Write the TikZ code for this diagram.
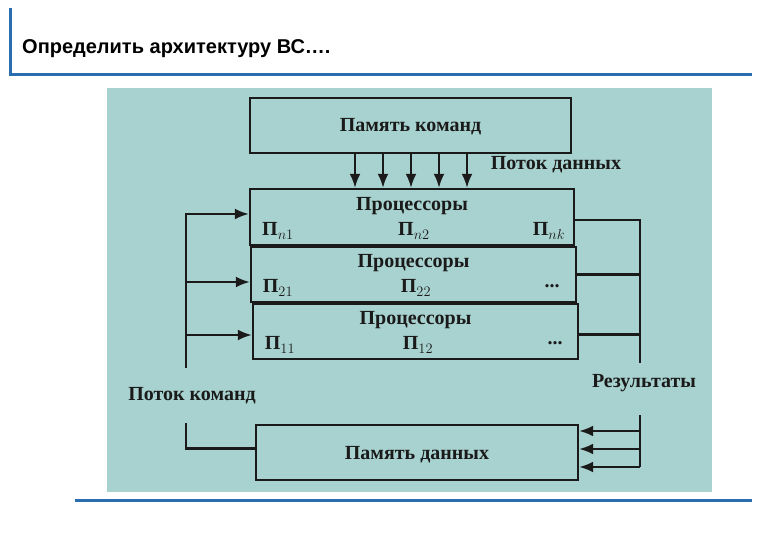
\documentclass[tikz,border=0pt]{standalone}
\usepackage{fontspec}
\setmainfont{Liberation Serif}
\newfontfamily\titlefont{Liberation Sans}
\usetikzlibrary{arrows.meta}
\definecolor{bg}{HTML}{A8D2CF}
\definecolor{ink}{HTML}{1A1A1A}
\definecolor{rule}{HTML}{2A6EB0}
\begin{document}
\begin{tikzpicture}[x=1pt,y=-1pt,
  box/.style={draw=ink,line width=2.4pt,fill=bg,inner sep=0pt},
  lbl/.style={text=ink,font=\fontsize{20}{22}\selectfont\bfseries,inner sep=0pt},
  con/.style={draw=ink,line width=2.2pt},
  arr/.style={con,-{Latex[length=14pt,width=11pt]}}]
\useasboundingbox (0,0) rectangle (780,540);
\fill[white] (0,0) rectangle (780,540);
% slide frame
\draw[rule,line width=3pt] (10,8) -- (10,76);
\draw[rule,line width=3pt] (10,75) -- (752,75);
\draw[rule,line width=3pt] (75,500) -- (752,500);
\node[anchor=west,inner sep=0pt,font=\titlefont\fontsize{20}{22}\selectfont\bfseries] (title) at (22,49) {Определить архитектуру ВС….};
% scan background
\fill[bg] (107,88) rectangle (712,492);
% boxes
\node[box,minimum width=321pt,minimum height=55pt] (mk) at (410.5,125.5) {};
\node[lbl] (mkt) at (410.5,127) {Память команд};
\node[box,minimum width=324pt,minimum height=56pt] (p1) at (412,217) {};
\node[box,minimum width=325pt,minimum height=55pt] (p2) at (413.5,274.5) {};
\node[box,minimum width=325pt,minimum height=55pt] (p3) at (415.5,331.5) {};
\node[box,minimum width=322pt,minimum height=55pt] (md) at (417,452.5) {};
\node[lbl] (mdt) at (417,455) {Память данных};
% processor texts
\node[lbl] (p1t) at (412,206) {Процессоры};
\node[lbl] (p1a) at (278,231) {П$_{n1}$};
\node[lbl] (p1b) at (414,231) {П$_{n2}$};
\node[lbl] (p1c) at (549,231) {П$_{nk}$};
\node[lbl] (p2t) at (413.5,263) {Процессоры};
\node[lbl] (p2a) at (278,288) {П$_{21}$};
\node[lbl] (p2b) at (416,288) {П$_{22}$};
\node[lbl] (p2c) at (552,286) {...};
\node[lbl] (p3t) at (415.5,320) {Процессоры};
\node[lbl] (p3a) at (280,345) {П$_{11}$};
\node[lbl] (p3b) at (418,345) {П$_{12}$};
\node[lbl] (p3c) at (555,343) {...};
% labels
\node[lbl] (ld) at (556,165) {Поток данных};
\node[lbl] (lk) at (192,396) {Поток команд};
\node[lbl] (lr) at (644,383) {Результаты};
% data flow arrows
\foreach \x in {355,383,411,439,467}
  \draw[arr] (mk.south -| \x,0) -- (p1.north -| \x,0);
% command flow
\coordinate (lb) at (186,368);
\coordinate (lb2) at (186,423);
\coordinate (l2) at (186,282);
\coordinate (l3) at (186,335);
\draw[arr] (lb) |- ([yshift=3pt]p1.west);
\draw[arr] (l2) -- (p2.west |- l2);
\draw[arr] (l3) -- (p3.west |- l3);
\draw[con] (lb2) |- ([yshift=4pt]md.west);
% results
\coordinate (rb) at (640,363);
\coordinate (rb2) at (640,415);
\draw[con] ([yshift=-3pt]p1.east) -| (rb);
\draw[con] (p2.east) -- (p2.east -| rb);
\draw[con] ([yshift=-3pt]p3.east) -- ([yshift=-3pt]p3.east -| rb);
\coordinate (rbe) at (640,467);
\draw[con] (rb2) -- (rbe);
\draw[arr] (rbe |- 0,431) -- (md.east |- 0,431);
\draw[arr] (rbe |- 0,449) -- (md.east |- 0,449);
\draw[arr] (rbe) -- (md.east |- rbe);
\end{tikzpicture}
\end{document}
